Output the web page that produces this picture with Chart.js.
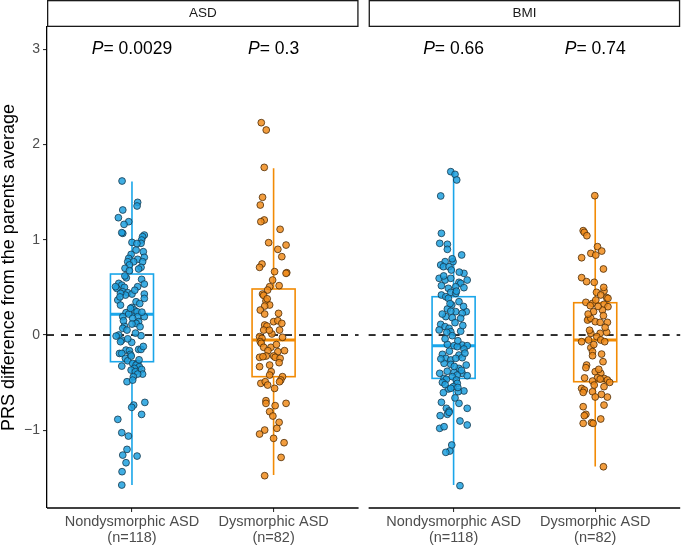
<!DOCTYPE html>
<html>
<head>
<meta charset="utf-8">
<script src="https://cdn.jsdelivr.net/npm/chart.js@4.4.1/dist/chart.umd.min.js"></script>
<style>
    body { margin: 0; background: #fff; }
    #wrap { width: 685px; height: 545px; }
</style>
</head>
<body>
<div id="wrap"><canvas id="chart" width="685" height="545"></canvas></div>
<script>
const panels = ['ASD', 'BMI'];
const groups = ['Nondysmorphic ASD', 'Dysmorphic ASD'];
const groupN = ['(n=118)', '(n=82)'];
const pValues = [['0.0029', '0.3'], ['0.66', '0.74']];
const yTicks = [-1, 0, 1, 2, 3];

// box stats: [lower whisker, q1, median, q3, upper whisker]
const boxAsdNd = [-1.574, -0.28, 0.217, 0.64, 1.61];
const boxAsdD = [-1.469, -0.437, -0.052, 0.483, 1.749];
const boxBmiNd = [-1.574, -0.455, -0.112, 0.402, 1.721];
const boxBmiD = [-1.38, -0.49, -0.052, 0.339, 1.462];

// PRS differences, with their horizontal jitter
const asdNdValues = [1.616,1.392,1.354,1.312,1.231,1.189,1.161,1.067,1.074,1.049,
    1.032,0.997,0.972,0.962,0.892,0.874,0.846,0.804,0.794,0.815,
    0.769,0.769,0.769,0.735,0.700,0.710,0.693,0.675,0.584,0.535,
    0.542,0.524,0.500,0.489,0.507,0.507,0.454,0.444,0.430,0.419,
    0.437,0.430,0.384,0.367,0.349,0.314,0.290,0.262,0.244,0.234,
    0.220,0.192,0.192,0.192,0.175,0.140,0.122,0.094,0.115,0.070,
    0.052,0.087,0.000,-0.011,-0.007,-0.053,-0.070,-0.077,-0.151,-0.151,
    -0.158,-0.165,-0.193,-0.193,-0.203,-0.245,-0.270,-0.298,-0.298,-0.326,
    -0.315,-0.333,-0.350,-0.368,-0.361,-0.385,-0.410,-0.410,-0.438,-0.490,
    -0.473,-0.707,-0.735,-0.759,-0.833,-0.885,-1.025,-1.060,-1.200,-1.260,
    -1.270,-1.340,-1.434,-1.574,
    0.60,0.47,0.40,0.33,0.28,0.24,0.15,0.02,-0.04,-0.12,-0.22,-0.26,0.62,0.96];
const asdNdJitter = [-0.070,0.040,0.036,-0.065,-0.096,-0.023,-0.056,-0.065,-0.072,0.087,
    0.075,0.068,0.000,0.064,0.029,0.080,-0.006,-0.023,0.040,0.087,
    -0.030,0.012,0.075,-0.018,-0.049,0.064,0.047,-0.018,0.068,0.087,
    -0.093,-0.072,-0.053,-0.107,-0.116,0.040,-0.065,-0.030,0.000,-0.046,
    -0.081,0.087,0.087,-0.100,0.029,-0.081,0.000,0.017,0.036,-0.042,
    -0.023,-0.065,0.040,0.087,0.005,0.047,0.029,-0.053,0.000,-0.065,
    -0.035,0.057,-0.093,-0.112,0.064,-0.072,-0.081,-0.002,0.047,0.064,
    -0.042,-0.018,-0.088,-0.072,-0.011,-0.046,-0.030,0.005,0.040,-0.072,
    0.029,0.052,0.017,-0.006,0.068,0.024,0.075,0.040,0.010,-0.035,
    0.005,0.091,0.012,-0.002,0.068,-0.100,-0.072,-0.025,-0.035,-0.065,
    0.036,-0.042,-0.070,-0.072,
    -0.040,0.020,-0.085,0.055,-0.010,0.070,-0.060,0.025,-0.030,0.080,-0.005,0.050,-0.050,0.035];

const asdDValues = [2.228,2.151,1.759,1.445,1.364,1.207,1.189,1.109,0.969,0.944,
    0.899,0.822,0.745,0.710,0.665,0.654,0.647,0.577,0.518,0.507,
    0.472,0.430,0.416,0.357,0.315,0.304,0.262,0.227,0.220,0.140,
    0.150,0.122,0.105,0.094,0.052,0.011,0.052,-0.024,-0.017,-0.035,
    -0.070,-0.087,-0.129,-0.129,-0.164,-0.175,-0.164,-0.220,-0.234,-0.220,
    -0.245,-0.234,-0.227,-0.290,-0.315,-0.332,-0.385,-0.420,-0.437,-0.472,
    -0.490,-0.507,-0.490,-0.525,-0.560,-0.689,-0.717,-0.717,-0.741,-0.804,
    -0.850,-0.916,-0.979,-0.997,-1.039,-1.084,-1.130,-1.284,-1.476,
    0.05,-0.10,0.38];
const asdDJitter = [-0.087,-0.052,-0.066,-0.078,-0.094,-0.066,-0.090,0.046,-0.035,0.088,
    0.030,0.058,-0.082,-0.099,0.007,0.093,0.088,-0.007,0.039,-0.028,
    -0.042,-0.078,-0.070,-0.054,-0.028,-0.063,-0.094,0.035,-0.063,0.000,
    0.030,0.058,-0.063,-0.047,0.042,-0.012,-0.070,0.063,-0.099,-0.082,
    -0.094,-0.087,-0.070,-0.019,0.077,0.030,-0.040,0.000,0.011,-0.052,
    0.046,-0.099,-0.075,0.039,-0.028,-0.099,-0.017,-0.028,0.063,0.051,
    0.042,-0.090,-0.059,-0.042,0.007,-0.054,-0.054,0.088,0.011,-0.028,
    -0.005,0.039,0.023,-0.063,-0.099,0.000,0.074,0.053,-0.063,
    -0.030,0.020,-0.045];

const bmiNdValues = [1.714,1.686,1.627,1.459,1.067,0.962,0.952,0.899,0.840,0.770,
    0.770,0.735,0.717,0.717,0.682,0.647,0.595,0.577,0.595,0.553,
    0.542,0.577,0.518,0.490,0.507,0.497,0.420,0.402,0.448,0.437,
    0.385,0.350,0.315,0.273,0.245,0.245,0.228,0.193,0.175,0.182,
    0.112,0.088,0.070,0.053,0.035,0.028,-0.007,-0.098,-0.112,-0.105,
    -0.112,-0.122,-0.147,-0.203,-0.210,-0.245,-0.262,-0.245,-0.238,-0.297,
    -0.308,-0.315,-0.350,-0.392,-0.402,-0.402,-0.420,-0.427,-0.455,-0.465,
    -0.437,-0.472,-0.507,-0.497,-0.542,-0.566,-0.559,-0.587,-0.594,-0.605,
    -0.706,-0.717,-0.769,-0.797,-0.769,-0.846,-0.832,-0.811,-0.902,-0.944,
    -0.979,-0.962,-1.154,-1.217,-1.231,-1.581,
    0.80,0.66,0.62,0.46,0.33,0.30,0.22,0.13,0.04,-0.04,
    -0.06,-0.17,-0.19,-0.25,-0.33,-0.37,-0.38,-0.55,-0.52,-0.66,
    0.25,0.10];
const bmiNdJitter = [-0.020,0.010,0.022,-0.091,-0.086,-0.098,-0.044,-0.044,0.057,-0.060,
    -0.004,-0.091,-0.072,-0.032,-0.016,0.073,-0.102,-0.060,-0.020,0.038,
    0.050,0.096,-0.086,-0.037,0.015,0.073,-0.086,-0.055,-0.020,0.015,
    -0.037,0.038,-0.013,-0.044,0.015,0.089,0.061,-0.055,0.050,-0.009,
    -0.091,-0.060,-0.032,-0.102,-0.020,-0.048,-0.009,-0.044,0.003,0.061,
    0.096,0.026,0.073,-0.079,0.038,-0.055,-0.020,0.015,0.061,-0.067,
    -0.020,0.089,0.038,0.003,0.061,-0.098,0.026,0.096,-0.067,-0.051,
    -0.009,0.019,0.026,-0.079,-0.002,-0.037,-0.020,0.073,0.033,-0.072,
    -0.086,0.038,-0.051,-0.032,0.096,-0.095,-0.044,-0.032,0.045,0.096,
    -0.098,-0.067,-0.013,-0.027,-0.055,0.045,
    -0.010,0.040,-0.070,0.020,-0.025,0.070,-0.080,0.010,0.050,-0.060,
    0.030,-0.030,0.080,-0.090,0.005,0.055,-0.045,0.030,-0.060,0.010,
    -0.020,0.065];

const bmiDValues = [1.462,1.095,1.077,1.042,0.927,0.881,0.857,0.839,0.811,0.693,
    0.602,0.560,0.553,0.462,0.448,0.420,0.392,0.385,0.343,0.332,
    0.367,0.322,0.297,0.308,0.245,0.262,0.168,0.157,0.175,0.140,
    0.133,0.203,0.133,0.018,0.018,0.028,-0.070,-0.052,-0.017,-0.052,
    -0.070,-0.133,-0.175,-0.217,-0.280,-0.315,-0.343,-0.385,-0.402,-0.448,
    -0.455,-0.483,-0.462,-0.472,-0.497,-0.525,-0.542,-0.560,-0.577,-0.602,
    -0.595,-0.623,-0.651,-0.735,-0.752,-0.832,-0.846,-0.881,-0.927,-0.920,
    -0.927,-1.382,
    0.30,0.22,0.08,-0.10,-0.20,-0.45,-0.36,0.05,-0.65,0.50];
const bmiDJitter = [-0.003,-0.085,-0.077,-0.059,0.016,0.046,-0.031,0.004,-0.096,0.058,
    -0.096,-0.061,-0.007,0.062,0.009,0.039,0.081,0.090,-0.066,-0.019,
    0.004,0.062,0.090,-0.035,-0.012,0.051,-0.047,-0.054,-0.031,0.000,
    0.035,0.058,0.086,-0.031,0.035,0.081,-0.096,-0.047,0.011,0.039,
    0.067,-0.031,-0.019,-0.019,0.055,-0.061,-0.066,0.000,0.039,0.016,
    0.062,-0.019,0.035,0.086,0.102,-0.007,0.062,-0.096,-0.077,-0.085,
    -0.019,0.044,0.086,0.062,-0.085,-0.066,-0.077,0.039,-0.085,-0.026,
    -0.015,0.058,
    0.020,-0.050,0.070,-0.010,0.045,-0.075,0.025,-0.040,0.000,0.060];

// layout of the two facets on one linear x axis
const PANEL_SPAN = 2.2;   // 0.4 .. 2.6 like ggplot's discrete expansion
const PANEL_GAP = 0.071;
const BOX_HALF = 0.152;
const FONT = '"Liberation Sans", Arial, Helvetica, sans-serif';

const lineColors = ['#1aa6ea', '#f28b05'];
const fillColors = ['rgba(30,160,222,0.85)', 'rgba(240,140,28,0.85)'];
const edgeColors = ['#17394c', '#4d2c08'];

function catPos(panel, g) {
    return 1 + g + panel * (PANEL_SPAN + PANEL_GAP);
}
function panelMin(panel) {
    return 0.4 + panel * (PANEL_SPAN + PANEL_GAP);
}

const series = [
    [{ values: asdNdValues, jitter: asdNdJitter, box: boxAsdNd },
     { values: asdDValues, jitter: asdDJitter, box: boxAsdD }],
    [{ values: bmiNdValues, jitter: bmiNdJitter, box: boxBmiNd },
     { values: bmiDValues, jitter: bmiDJitter, box: boxBmiD }]
];

let datasets = [];
let tickPositions = [];
series.forEach((panelSeries, p) => {
    panelSeries.forEach((s, g) => {
        tickPositions.push(catPos(p, g));
        datasets.push({
            label: panels[p] + ' ' + groups[g],
            data: s.values.map((v, k) => ({ x: catPos(p, g) + s.jitter[k], y: v })),
            pointRadius: 3.4,
            pointBorderWidth: 0.8,
            backgroundColor: fillColors[g],
            borderColor: edgeColors[g]
        });
    });
});

const facetPlugin = {
    id: 'facets',
    beforeDatasetsDraw(chart) {
        const ctx = chart.ctx;
        const x = chart.scales.x;
        const y = chart.scales.y;
        ctx.save();
        series.forEach((panelSeries, p) => {
            panelSeries.forEach((s, g) => {
                const pos = catPos(p, g);
                const cx = x.getPixelForValue(pos);
                const x0 = x.getPixelForValue(pos - BOX_HALF);
                const x1 = x.getPixelForValue(pos + BOX_HALF);
                const [lo, q1, med, q3, hi] = s.box.map(v => y.getPixelForValue(v));
                ctx.strokeStyle = lineColors[g];
                ctx.lineWidth = 1.6;
                ctx.beginPath();
                ctx.moveTo(cx, hi); ctx.lineTo(cx, q3);
                ctx.moveTo(cx, q1); ctx.lineTo(cx, lo);
                ctx.stroke();
                ctx.strokeRect(x0, q3, x1 - x0, q1 - q3);
                ctx.lineWidth = 3;
                ctx.beginPath();
                ctx.moveTo(x0, med); ctx.lineTo(x1, med);
                ctx.stroke();
            });
            // reference line at zero
            const y0 = y.getPixelForValue(0);
            ctx.strokeStyle = '#000';
            ctx.lineWidth = 1.6;
            ctx.setLineDash([7, 7]);
            ctx.beginPath();
            ctx.moveTo(x.getPixelForValue(panelMin(p)), y0);
            ctx.lineTo(x.getPixelForValue(panelMin(p) + PANEL_SPAN), y0);
            ctx.stroke();
            ctx.setLineDash([]);
        });
        ctx.restore();
    },
    afterDraw(chart) {
        const ctx = chart.ctx;
        const x = chart.scales.x;
        const y = chart.scales.y;
        const area = chart.chartArea;
        ctx.save();
        panels.forEach((name, p) => {
            const left = x.getPixelForValue(panelMin(p));
            const right = x.getPixelForValue(panelMin(p) + PANEL_SPAN);
            // strip
            ctx.fillStyle = '#fff';
            ctx.strokeStyle = '#1a1a1a';
            ctx.lineWidth = 1.3;
            ctx.fillRect(left, 0, right - left, area.top);
            ctx.strokeRect(left + 0.65, 0.65, right - left - 1.3, area.top - 1.3);
            ctx.fillStyle = '#1a1a1a';
            ctx.font = '13.5px ' + FONT;
            ctx.textAlign = 'center';
            ctx.textBaseline = 'middle';
            ctx.fillText(name, (left + right) / 2, area.top / 2);
            // bottom axis line
            ctx.strokeStyle = '#000';
            ctx.lineWidth = 1.3;
            ctx.beginPath();
            ctx.moveTo(left, area.bottom);
            ctx.lineTo(right, area.bottom);
            ctx.stroke();
            // P values
            groups.forEach((gname, g) => {
                const cx = x.getPixelForValue(catPos(p, g));
                const cy = y.getPixelForValue(3);
                const italic = 'italic 17.5px ' + FONT;
                const normal = '17.5px ' + FONT;
                const rest = '= ' + pValues[p][g];
                ctx.font = italic;
                const wP = ctx.measureText('P').width;
                ctx.font = normal;
                const wR = ctx.measureText(rest).width;
                const start = cx - (wP + wR) / 2;
                ctx.textAlign = 'left';
                ctx.fillStyle = '#000';
                ctx.font = italic;
                ctx.fillText('P', start, cy);
                ctx.font = normal;
                ctx.fillText(rest, start + wP, cy);
            });
        });
        ctx.restore();
    }
};

new Chart(document.getElementById('chart'), {
    type: 'scatter',
    data: { datasets: datasets },
    options: {
        responsive: false,
        animation: false,
        layout: { padding: { top: 27, left: 0, right: 0, bottom: 0 } },
        plugins: {
            legend: { display: false },
            tooltip: { enabled: false }
        },
        scales: {
            x: {
                type: 'linear',
                min: 0.4,
                max: panelMin(1) + PANEL_SPAN,
                afterBuildTicks: (scale) => { scale.ticks = tickPositions.map(v => ({ value: v })); },
                afterFit: (scale) => { scale.height = 37; },
                border: { display: false },
                grid: { drawOnChartArea: false, drawTicks: true, tickLength: 4, color: '#333', lineWidth: 1.1 },
                ticks: {
                    autoSkip: false,
                    maxRotation: 0,
                    padding: 2,
                    color: '#4d4d4d',
                    font: { family: FONT, size: 14.5, lineHeight: 1.1 },
                    callback: (value) => {
                        const g = tickPositions.indexOf(value) % 2;
                        return [groups[g], groupN[g]];
                    }
                }
            },
            y: {
                type: 'linear',
                min: -1.815,
                max: 3.232,
                afterBuildTicks: (scale) => { scale.ticks = yTicks.map(v => ({ value: v })); },
                afterFit: (scale) => { scale.width = 47; },
                border: { display: true, color: '#000', width: 1.3 },
                grid: { drawOnChartArea: false, drawTicks: true, tickLength: 4, color: '#333', lineWidth: 1.1 },
                ticks: {
                    padding: 3,
                    color: '#4d4d4d',
                    font: { family: FONT, size: 14 },
                    callback: (v) => v < 0 ? '\u2212' + Math.abs(v) : String(v)
                },
                title: {
                    display: true,
                    text: 'PRS difference from the parents average',
                    color: '#000',
                    padding: 0,
                    font: { family: FONT, size: 18, lineHeight: 1 }
                }
            }
        }
    },
    plugins: [facetPlugin]
});
</script>
</body>
</html>
